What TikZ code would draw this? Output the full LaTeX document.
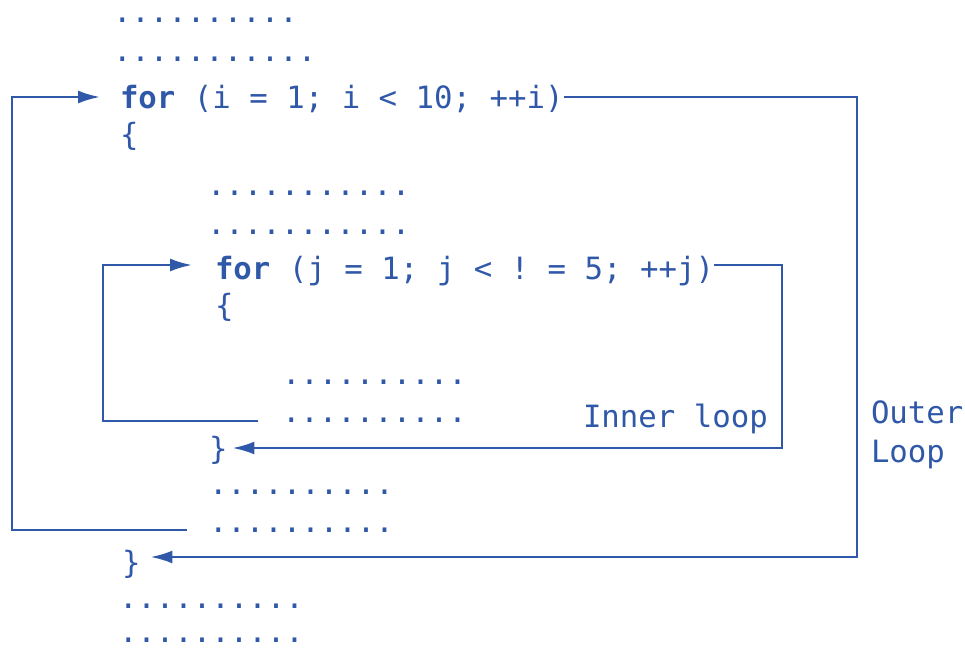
\documentclass[tikz,border=0pt]{standalone}
\usepackage{fontspec}
\setmonofont{DejaVu Sans Mono}
\usetikzlibrary{arrows.meta}
\definecolor{ink}{RGB}{48,88,168}
\begin{document}
\begin{tikzpicture}[x=1pt,y=-1pt,
  code/.style={anchor=base west,inner sep=0pt,outer sep=0pt,text=ink,
    font=\fontsize{30.7}{36}\ttfamily},
  dots/.style={code,text height=4pt,text depth=0pt},
  wire/.style={draw=ink,line width=2.4pt},
  arr/.style={wire,-{Latex[length=22pt,width=13pt]}}]
\useasboundingbox (0,0) rectangle (965,648);
% outer code
\node[dots] (d1) at (113,22) {..........};
\node[dots] (d2) at (113,61) {...........};
\node[code] (fori) at (120,108) {\textbf{for} (i = 1; i < 10; ++i)};
\node[code] (openo) at (120,145) {\{};
\node[dots] (d3) at (207,195) {...........};
\node[dots] (d4) at (207,234) {...........};
\node[code] (forj) at (215,279) {\textbf{for} (j = 1; j < ! = 5; ++j)};
\node[code] (openi) at (215,316) {\{};
\node[dots] (d5) at (282,384) {..........};
\node[dots] (d6) at (282,422) {..........};
\node[code] (inl) at (583,427) {Inner loop};
\node[code] (closei) at (209,459) {\}};
\node[dots] (d7) at (209,494) {..........};
\node[dots] (d8) at (209,532) {..........};
\node[code] (closeo) at (122,573) {\}};
\node[dots] (d9) at (119,608) {..........};
\node[dots] (d10) at (119,642) {..........};
\node[code] (outl1) at (871,423) {Outer};
\node[code] (outl2) at (871,462) {Loop};
% outer loop connectors
\coordinate (oTR) at (857,97);
\coordinate (oBR) at (857,557);
\coordinate (oL1) at (12,97);
\coordinate (oL2) at (12,530);
\coordinate (oL3) at (187,530);
\draw[arr,shorten >=10pt] (fori.east |- oTR) -- (oTR) -- (oBR) -- (closeo.east |- oBR);
\draw[arr,shorten >=20pt] (oL3) -- (oL2) -- (oL1) -- (fori.west |- oL1);
% inner loop connectors
\coordinate (iTR) at (782,265);
\coordinate (iBR) at (782,448);
\coordinate (iL1) at (103,265);
\coordinate (iL2) at (103,421);
\coordinate (iL3) at (258,421);
\draw[arr,shorten >=5pt] (forj.east |- iTR) -- (iTR) -- (iBR) -- (closei.east |- iBR);
\draw[arr,shorten >=23pt] (iL3) -- (iL2) -- (iL1) -- (forj.west |- iL1);
\end{tikzpicture}
\end{document}
